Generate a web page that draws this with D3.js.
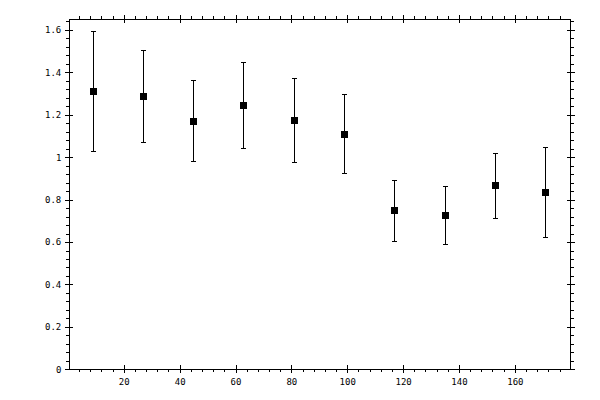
<!DOCTYPE html>
<html>
<head>
<meta charset="utf-8">
<script src="https://d3js.org/d3.v7.min.js"></script>
<style>
  body { margin: 0; background: #fff; }
  svg { display: block; }
  .axis text { font-family: "DejaVu Sans Mono", monospace; font-size: 9px; fill: #000; }
  .axis path, .axis line { stroke: #000; stroke-width: 1; shape-rendering: crispEdges; }
</style>
</head>
<body>
<div id="chart"></div>
<script>
  const w = 600, h = 400

  // data
  const xValues = [9, 27, 45, 63, 81, 99, 117, 135, 153, 171]
  const yValues = [1.308, 1.285, 1.167, 1.242, 1.172, 1.106, 0.748, 0.725, 0.866, 0.833]
  const yUpper  = [1.593, 1.504, 1.360, 1.445, 1.369, 1.294, 0.889, 0.861, 1.016, 1.046]
  const yLower  = [1.026, 1.068, 0.979, 1.040, 0.974, 0.922, 0.602, 0.588, 0.711, 0.621]

  const xTicks = [20, 40, 60, 80, 100, 120, 140, 160]
  const yTicks = [0, 0.2, 0.4, 0.6, 0.8, 1, 1.2, 1.4, 1.6]

  const plotL = 69.3, plotR = 570.7, plotT = 19.3, plotB = 369.3

  const x = d3.scaleLinear().domain([0.5, 180]).range([plotL, plotR])
  const y = d3.scaleLinear().domain([0, 1.65]).range([plotB, plotT])

  const xMinor = d3.range(4, 180, 4).filter(v => v % 20 !== 0)
  const yMinor = d3.range(0.04, 1.65, 0.04).filter(v => Math.abs(v / 0.2 - Math.round(v / 0.2)) > 1e-6)

  const svg = d3.select("#chart").append("svg")
    .attr("width", w)
    .attr("height", h)

  // frame
  svg.append("rect")
    .attr("x", plotL).attr("y", plotT)
    .attr("width", plotR - plotL).attr("height", plotB - plotT)
    .attr("fill", "none").attr("stroke", "#000")
    .attr("shape-rendering", "crispEdges")

  // axis helper: minor ticks outside, major ticks crossing the frame
  function addAxis(axisFn, scale, tx, ty, major, minor, labels, fmt) {
    const g = svg.append("g").attr("class", "axis").attr("transform", `translate(${tx},${ty})`)
    g.append("g").call(axisFn(scale).tickValues(minor).tickSize(3).tickFormat(""))
    const m = g.append("g").call(axisFn(scale).tickValues(major).tickSize(4).tickPadding(labels ? 4 : 0)
      .tickFormat(labels ? fmt : ""))
    const vertical = axisFn === d3.axisLeft || axisFn === d3.axisRight
    const sign = (axisFn === d3.axisLeft || axisFn === d3.axisTop) ? -1 : 1
    m.selectAll(".tick line").attr(vertical ? "x1" : "y1", -sign * 4)
    g.selectAll(".domain").remove()
    return m
  }

  const xb = addAxis(d3.axisBottom, x, 0, plotB, xTicks, xMinor, true, d3.format("d"))
  xb.selectAll("text").attr("y", 9.5)
  addAxis(d3.axisTop, x, 0, plotT, xTicks, xMinor, false)
  addAxis(d3.axisLeft, y, plotL, 0, yTicks, yMinor, true, d3.format("~g"))
  addAxis(d3.axisRight, y, plotR, 0, yTicks, yMinor, false)

  const points = xValues.map((d, i) => ({x: d, y: yValues[i], hi: yUpper[i], lo: yLower[i]}))

  const marks = svg.append("g")
    .attr("stroke", "#000")
    .attr("shape-rendering", "crispEdges")

  // error bars
  marks.selectAll(".bar").data(points).enter().append("line")
    .attr("x1", d => x(d.x)).attr("x2", d => x(d.x))
    .attr("y1", d => y(d.hi)).attr("y2", d => y(d.lo))
  marks.selectAll(".capHi").data(points).enter().append("line")
    .attr("x1", d => x(d.x) - 2.5).attr("x2", d => x(d.x) + 2.5)
    .attr("y1", d => y(d.hi)).attr("y2", d => y(d.hi))
  marks.selectAll(".capLo").data(points).enter().append("line")
    .attr("x1", d => x(d.x) - 2.5).attr("x2", d => x(d.x) + 2.5)
    .attr("y1", d => y(d.lo)).attr("y2", d => y(d.lo))

  // square markers
  svg.append("g").selectAll("rect").data(points).enter().append("rect")
    .attr("x", d => x(d.x) - 3.5)
    .attr("y", d => y(d.y) - 3.5)
    .attr("width", 7).attr("height", 7)
    .attr("fill", "#000")
    .attr("shape-rendering", "crispEdges")
</script>
</body>
</html>
